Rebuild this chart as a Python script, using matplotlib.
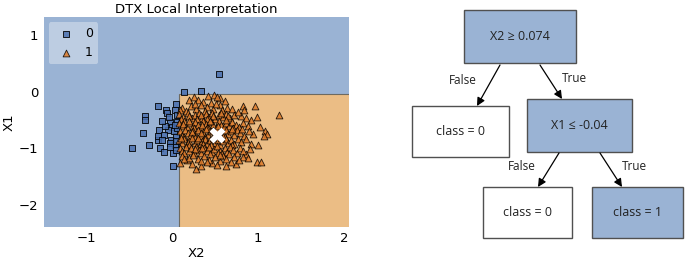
import matplotlib
matplotlib.use("Agg")
import matplotlib.pyplot as plt
from matplotlib.patches import Rectangle

# ---- data ----
# class 0 samples (x2, x1)
sq_x2 = [0.54, 0.14, 0.33, -0.16, -0.07, 0.05, 0.03, -0.32, -0.31, -0.34,
         -0.47, -0.27, -0.15, -0.16, -0.14, -0.10, 0.01, 0.01, -0.06, -0.03,
         0.00, -0.05, -0.10, -0.01, 0.03, -0.02, 0.05, 0.06, 0.06, 0.04,
         -0.17, -0.12, -0.04, 0.02, -0.08, 0.06, -0.03, 0.05, -0.12, 0.03]
sq_x1 = [0.32, -0.01, 0.01, -0.26, -0.32, -0.22, -0.32, -0.43, -0.50, -0.73,
         -1.00, -0.94, -0.68, -0.85, -1.00, -1.06, -1.31, -1.09, -0.38, -0.53,
         -0.62, -0.68, -0.76, -0.85, -0.94, -0.91, -1.03, -0.41, -0.53, -0.79,
         -0.78, -0.85, -0.45, -0.70, -0.60, -0.65, -0.98, -0.88, -0.52, -0.58]

# class 1 samples (x2, x1)
tri = [
    (0.42, -0.07), (0.49, -0.05), (0.56, -0.12), (0.19, -0.15), (0.25, -0.10),
    (0.52, -0.10), (0.36, -0.18), (0.61, -0.16), (0.30, -0.14), (0.45, -0.20),
    (0.82, -0.25), (0.96, -0.25), (0.84, -0.32), (0.12, -0.28), (0.22, -0.25),
    (0.28, -0.30), (0.33, -0.23), (0.40, -0.27), (0.47, -0.31), (0.55, -0.24),
    (0.58, -0.33), (0.64, -0.28), (0.70, -0.30), (0.16, -0.34), (0.38, -0.35),
    (0.51, -0.22), (0.09, -0.32), (0.26, -0.21),
    (1.24, -0.42), (0.98, -0.45), (0.80, -0.43), (0.92, -0.50), (0.08, -0.40),
    (0.13, -0.45), (0.18, -0.38), (0.23, -0.47), (0.27, -0.41), (0.31, -0.37),
    (0.35, -0.46), (0.39, -0.40), (0.43, -0.44), (0.46, -0.38), (0.50, -0.48),
    (0.54, -0.41), (0.59, -0.45), (0.62, -0.39), (0.67, -0.47), (0.72, -0.41),
    (0.76, -0.36), (0.10, -0.49), (0.20, -0.43), (0.29, -0.49), (0.41, -0.49),
    (0.48, -0.43), (0.57, -0.37), (0.65, -0.43), (0.86, -0.46), (0.34, -0.42),
    (1.02, -0.62), (0.08, -0.55), (0.11, -0.60), (0.14, -0.52), (0.17, -0.63),
    (0.21, -0.56), (0.24, -0.61), (0.27, -0.53), (0.30, -0.58), (0.33, -0.64),
    (0.36, -0.52), (0.39, -0.57), (0.42, -0.62), (0.45, -0.54), (0.48, -0.59),
    (0.51, -0.64), (0.54, -0.52), (0.57, -0.58), (0.60, -0.62), (0.63, -0.55),
    (0.66, -0.60), (0.70, -0.53), (0.74, -0.58), (0.78, -0.63), (0.82, -0.55),
    (0.88, -0.60), (0.13, -0.57), (0.25, -0.65), (0.35, -0.59), (0.44, -0.51),
    (0.53, -0.60), (0.62, -0.50), (0.71, -0.64), (0.19, -0.51), (0.40, -0.65),
    (1.08, -0.69), (1.10, -0.75), (1.07, -0.79), (0.94, -0.74), (0.09, -0.70),
    (0.12, -0.76), (0.15, -0.67), (0.18, -0.73), (0.21, -0.79), (0.24, -0.69),
    (0.27, -0.75), (0.30, -0.68), (0.33, -0.78), (0.36, -0.71), (0.39, -0.66),
    (0.42, -0.77), (0.45, -0.70), (0.48, -0.67), (0.56, -0.72), (0.59, -0.78),
    (0.62, -0.68), (0.65, -0.75), (0.68, -0.70), (0.72, -0.77), (0.75, -0.67),
    (0.79, -0.73), (0.84, -0.79), (0.89, -0.69), (0.14, -0.80), (0.26, -0.80),
    (0.38, -0.80), (0.61, -0.80), (0.70, -0.66), (0.81, -0.66), (0.23, -0.72),
    (0.34, -0.73), (0.47, -0.79),
    (1.00, -0.95), (0.08, -0.86), (0.11, -0.91), (0.14, -0.84), (0.17, -0.93),
    (0.20, -0.87), (0.23, -0.82), (0.26, -0.90), (0.29, -0.85), (0.32, -0.94),
    (0.35, -0.88), (0.38, -0.83), (0.41, -0.92), (0.44, -0.86), (0.47, -0.81),
    (0.50, -0.90), (0.53, -0.85), (0.56, -0.94), (0.59, -0.88), (0.62, -0.83),
    (0.65, -0.91), (0.68, -0.86), (0.72, -0.93), (0.76, -0.84), (0.80, -0.89),
    (0.86, -0.83), (0.91, -0.92), (0.19, -0.95), (0.30, -0.82), (0.45, -0.95),
    (0.57, -0.82), (0.70, -0.95), (0.10, -0.82), (0.36, -0.93),
    (0.90, -1.01), (0.86, -1.10), (0.09, -0.99), (0.12, -1.05), (0.16, -0.98),
    (0.19, -1.04), (0.22, -1.00), (0.25, -1.08), (0.28, -0.97), (0.31, -1.03),
    (0.34, -1.09), (0.37, -0.99), (0.40, -1.05), (0.43, -0.98), (0.46, -1.07),
    (0.49, -1.01), (0.52, -0.96), (0.55, -1.04), (0.58, -1.09), (0.61, -1.00),
    (0.64, -1.06), (0.67, -0.98), (0.71, -1.03), (0.75, -1.08), (0.79, -0.99),
    (0.82, -1.05), (0.14, -1.09), (0.27, -1.02), (0.44, -1.10), (0.53, -1.08),
    (0.66, -1.10), (0.35, -1.00),
    (0.98, -1.25), (1.03, -1.24), (0.74, -1.28), (0.63, -1.32), (0.28, -1.37),
    (0.34, -1.32), (0.09, -1.26), (0.17, -1.21), (0.82, -1.15), (0.46, -1.26),
    (0.43, -1.21), (0.72, -1.15), (0.11, -1.14), (0.20, -1.17), (0.24, -1.12),
    (0.30, -1.19), (0.37, -1.14), (0.40, -1.24), (0.50, -1.16), (0.55, -1.22),
    (0.59, -1.13), (0.63, -1.19), (0.68, -1.24), (0.78, -1.20), (0.23, -1.28),
    (0.52, -1.30), (0.14, -1.19), (0.33, -1.23), (0.56, -1.12), (0.88, -1.18),
]
tri_x2 = [p[0] for p in tri]
tri_x1 = [p[1] for p in tri]

# instance being explained
inst_x2, inst_x1 = 0.52, -0.76

# tree split thresholds
thr_x2 = 0.074
thr_x1 = -0.04

xlim = (-1.49, 2.05)
ylim = (-2.39, 1.32)

blue_bg = "#9ab3d4"
orange_bg = "#ebbd85"
blue_pt = "#4a6fae"
orange_pt = "#dd7a2a"

fig = plt.figure(figsize=(6.85, 2.62), dpi=100)

# ---- left: decision regions ----
ax = fig.add_axes([0.064, 0.134, 0.445, 0.801])
ax.set_facecolor(blue_bg)
ax.add_patch(Rectangle((thr_x2, ylim[0] - 1), xlim[1] + 1 - thr_x2, thr_x1 - ylim[0] + 1,
                       facecolor=orange_bg, edgecolor="#6e6a60", linewidth=0.8, zorder=0.5))
ax.scatter(sq_x2, sq_x1, marker="s", s=22, c=blue_pt, edgecolors="black",
           linewidths=0.7, alpha=0.85, label="0", zorder=2)
ax.scatter(tri_x2, tri_x1, marker="^", s=24, c=orange_pt, edgecolors="black",
           linewidths=0.6, alpha=0.85, label="1", zorder=3)
ax.scatter([inst_x2], [inst_x1], marker="X", s=130, c="white", linewidths=0, zorder=4)
ax.set_xlim(*xlim)
ax.set_ylim(*ylim)
ax.set_xticks([-1, 0, 1, 2])
ax.set_yticks([-2, -1, 0, 1])
ax.set_xticklabels(["\u22121", "0", "1", "2"])
ax.set_yticklabels(["\u22122", "\u22121", "0", "1"])
ax.tick_params(labelsize=9.5, length=0, pad=4)
for s in ax.spines.values():
    s.set_visible(False)
ax.set_xlabel("X2", fontsize=9.5, labelpad=1)
ax.set_ylabel("X1", fontsize=9.5, labelpad=2)
ax.set_title("DTX Local Interpretation", fontsize=9.5, pad=3)
leg = ax.legend(loc="upper left", fontsize=9, frameon=True, framealpha=0.35,
                facecolor="white", edgecolor="none", borderaxespad=0.4,
                handletextpad=0.5, markerscale=1.0)

# ---- right: the tree ----
tx = fig.add_axes([0, 0, 1, 1])
tx.set_xlim(0, 685)
tx.set_ylim(262, 0)
tx.axis("off")

nodes = [
    # (x0, y0, x1, y1, text, filled)
    (464, 10, 576, 63, "X2 \u2265 0.074", True),
    (412, 106, 509, 157, "class = 0", False),
    (527, 99, 632, 152, "X1 \u2264 -0.04", True),
    (483, 187, 572, 238, "class = 0", False),
    (592, 187, 683, 238, "class = 1", True),
]
for x0, y0, x1, y1, txt, filled in nodes:
    tx.add_patch(Rectangle((x0, y0), x1 - x0, y1 - y0,
                           facecolor=blue_bg if filled else "white",
                           edgecolor="#505050", linewidth=1.0))
    tx.text((x0 + x1) / 2, (y0 + y1) / 2, txt, ha="center", va="center",
            fontsize=9, family="Open Sans", color="#222222")

edges = [
    ((500, 65), (477, 106), "False", (463, 80)),
    ((540, 65), (562, 99), "True", (574, 78)),
    ((559, 153), (538, 187), "False", (522, 167)),
    ((600, 153), (622, 187), "True", (634, 167)),
]
for (sx, sy), (ex, ey), lab, (lx, ly) in edges:
    tx.annotate("", xy=(ex, ey), xytext=(sx, sy),
                arrowprops=dict(arrowstyle="-|>", color="black", lw=0.9,
                                mutation_scale=12, shrinkA=0, shrinkB=0))
    tx.text(lx, ly, lab, ha="center", va="center", fontsize=8.5,
            family="Open Sans", color="#222222")

fig.savefig("out.png", dpi=100)
